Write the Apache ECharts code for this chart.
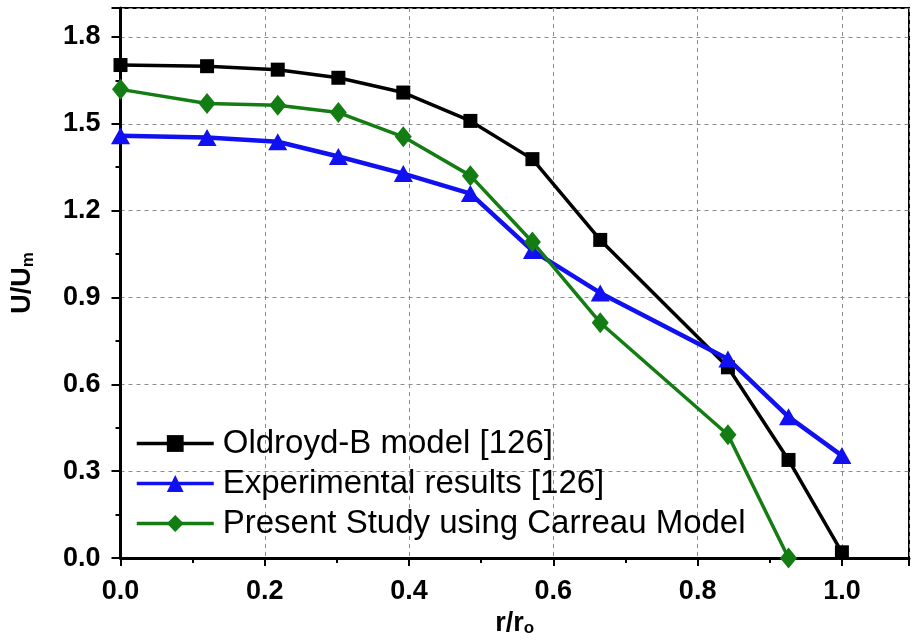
<!DOCTYPE html>
<html>
<head>
<meta charset="utf-8">
<script src="https://cdn.jsdelivr.net/npm/echarts@6/dist/echarts.min.js"></script>
<style>
  html, body { margin: 0; padding: 0; background: #fff; }
  #chart { width: 912px; height: 642px; }
</style>
</head>
<body>
<div id="chart"></div>
<script>
// Radial position r/r0 shared by all profiles
const radius = [0, 0.12, 0.218, 0.302, 0.392, 0.485, 0.571, 0.665, 0.842, 0.926, 1.0];

// Normalised velocity U/Um for each profile
const oldroydB = [1.703, 1.699, 1.687, 1.659, 1.608, 1.510, 1.378, 1.099, 0.659, 0.339, 0.02];
const experimental = [1.459, 1.453, 1.438, 1.387, 1.328, 1.259, 1.062, 0.916, 0.688, 0.488, 0.354];
const carreau = [1.619, 1.570, 1.564, 1.539, 1.455, 1.321, 1.092, 0.813, 0.426, 0.0];

const seriesNames = [
  'Oldroyd-B model [126]',
  'Experimental results [126]',
  'Present Study using Carreau Model'
];

const xTicks = [0, 0.2, 0.4, 0.6, 0.8, 1.0];
const yTicks = [0, 0.3, 0.6, 0.9, 1.2, 1.5, 1.8];

function pairs(xs, ys) {
  return ys.map((y, i) => [xs[i], y]);
}

const FONT = '"Liberation Sans", Arial, Helvetica, sans-serif';

const chart = echarts.init(document.getElementById('chart'), null, { renderer: 'canvas' });

function tickLabel(ticks) {
  return function (v) {
    return ticks.some(t => Math.abs(t - v) < 1e-6) ? v.toFixed(1) : '';
  };
}

chart.setOption({
  animation: false,
  backgroundColor: '#ffffff',
  grid: {
    left: 120.5,
    right: 0,
    top: 8,
    bottom: 80,
    show: true,
    borderColor: '#000',
    borderWidth: 2,
    containLabel: false
  },
  legend: {
    orient: 'vertical',
    left: 135,
    top: 424,
    padding: 0,
    itemWidth: 77,
    itemHeight: 21,
    itemGap: 1,
    data: seriesNames,
    lineStyle: { width: 3.5 },
    textStyle: {
      fontFamily: FONT,
      fontSize: 33,
      color: '#000',
      lineHeight: 39,
      padding: [0, 0, 0, 4]
    }
  },
  xAxis: {
    type: 'value',
    min: 0,
    max: 1.093,
    interval: 0.2,
    name: '{a|r/r}{s|o}',
    nameLocation: 'middle',
    nameGap: 48,
    nameTextStyle: {
      rich: {
        a: { fontFamily: FONT, fontWeight: 'bold', fontSize: 27, color: '#000' },
        s: { fontFamily: FONT, fontWeight: 'bold', fontSize: 17, color: '#000', padding: [10, 0, 0, 0] }
      }
    },
    axisLine: { show: true, onZero: false, lineStyle: { color: '#000', width: 3 } },
    axisTick: { show: true, length: 8, lineStyle: { color: '#000', width: 2 } },
    minorTick: { show: true, splitNumber: 2, length: 5, lineStyle: { color: '#000', width: 2 } },
    axisLabel: {
      margin: 20,
      fontFamily: FONT,
      fontWeight: 'bold',
      fontSize: 27,
      color: '#000',
      formatter: tickLabel(xTicks)
    },
    splitLine: { show: true, lineStyle: { color: '#8c8c8c', type: [4, 4], width: 1 } }
  },
  yAxis: {
    type: 'value',
    min: 0,
    max: 1.9,
    interval: 0.3,
    name: '{a|U/U}{s|m}',
    nameLocation: 'middle',
    nameGap: 84,
    nameTextStyle: {
      rich: {
        a: { fontFamily: FONT, fontWeight: 'bold', fontSize: 27, color: '#000' },
        s: { fontFamily: FONT, fontWeight: 'bold', fontSize: 17, color: '#000', padding: [10, 0, 0, 0] }
      }
    },
    axisLine: { show: true, onZero: false, lineStyle: { color: '#000', width: 3 } },
    axisTick: { show: true, length: 9, lineStyle: { color: '#000', width: 2 } },
    minorTick: { show: true, splitNumber: 2, length: 5, lineStyle: { color: '#000', width: 2 } },
    axisLabel: {
      margin: 20,
      fontFamily: FONT,
      fontWeight: 'bold',
      fontSize: 27,
      color: '#000',
      formatter: tickLabel(yTicks)
    },
    splitLine: { show: true, lineStyle: { color: '#8c8c8c', type: [4, 4], width: 1 } }
  },
  series: [
    {
      name: seriesNames[0],
      type: 'line',
      data: pairs(radius, oldroydB),
      symbol: 'rect',
      symbolSize: 14,
      color: '#000000',
      lineStyle: { width: 3.5, color: '#000000' },
      itemStyle: { color: '#000000' },
      z: 3
    },
    {
      name: seriesNames[1],
      type: 'line',
      data: pairs(radius, experimental),
      symbol: 'triangle',
      symbolSize: [19, 17],
      color: '#1010f0',
      lineStyle: { width: 4.5, color: '#1010f0' },
      itemStyle: { color: '#1010f0' },
      z: 4
    },
    {
      name: seriesNames[2],
      type: 'line',
      data: pairs(radius, carreau),
      symbol: 'diamond',
      symbolSize: [17, 21],
      color: '#137d13',
      lineStyle: { width: 3.5, color: '#137d13' },
      itemStyle: { color: '#137d13' },
      z: 5
    }
  ]
});
</script>
</body>
</html>
